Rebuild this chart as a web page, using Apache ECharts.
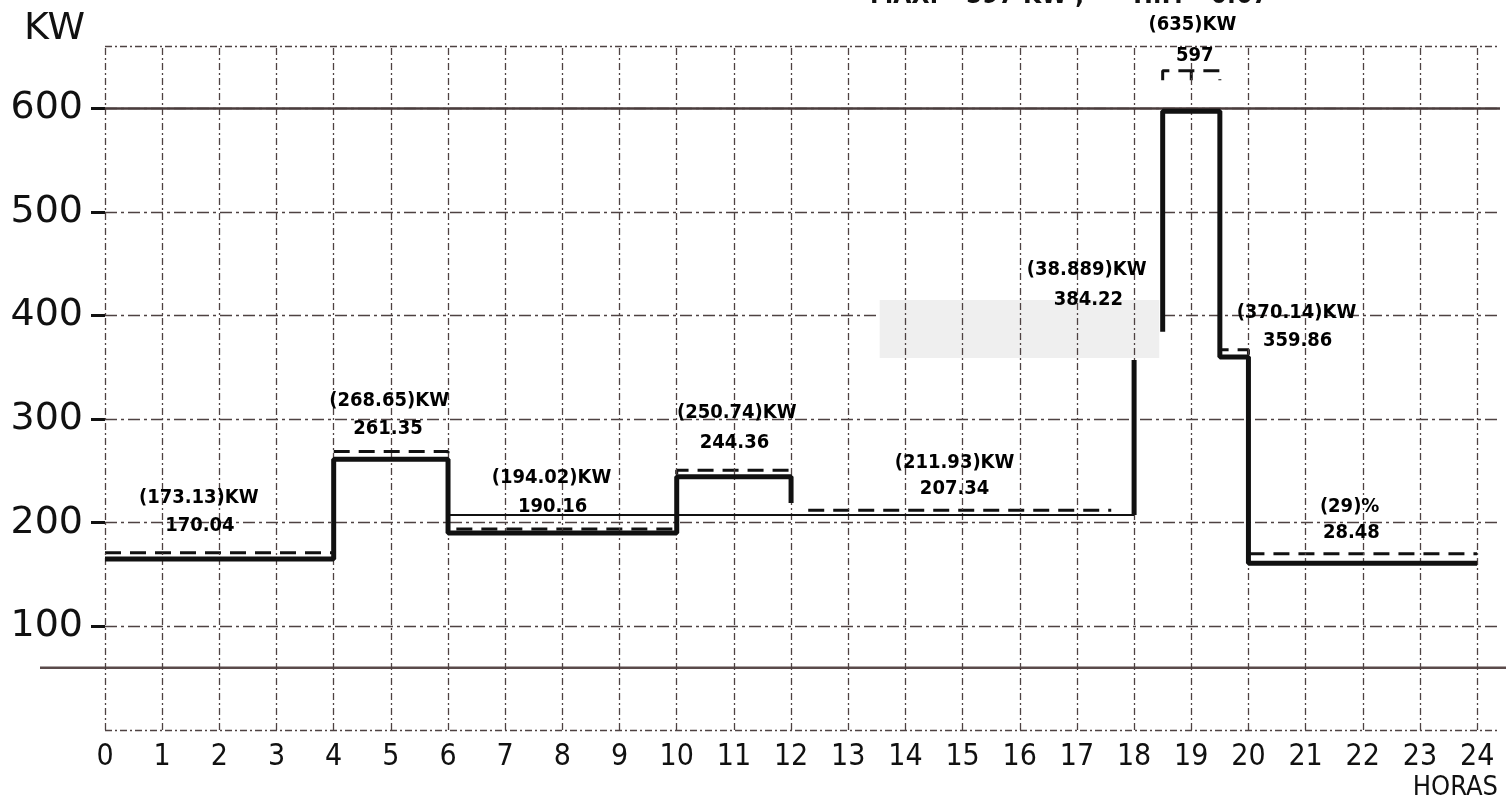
<!DOCTYPE html>
<html>
<head>
<meta charset="utf-8">
<script src="https://cdn.jsdelivr.net/npm/echarts@6/dist/echarts.min.js"></script>
<style>
html, body { margin: 0; padding: 0; background: #fff; }
#chart { width: 1506px; height: 811px; }
</style>
</head>
<body>
<div id="chart"></div>
<script>
// eje X (horas) y eje Y (KW)
const hourLabels = [0, 1, 2, 3, 4, 5, 6, 7, 8, 9, 10, 11, 12, 13, 14, 15, 16, 17, 18, 19, 20, 21, 22, 23, 24];
const kwLabels = [100, 200, 300, 400, 500, 600];

// demanda registrada, trazo grueso [hora, KW]
const demandaA = [[0, 165], [4, 165], [4, 261.35], [6, 261.35], [6, 190.16], [10, 190.16], [10, 244.36], [12, 244.36], [12, 219]];
const demandaB = [[18, 207.34], [18, 357]];
const demandaC = [[18.5, 384.22], [18.5, 597], [19.5, 597], [19.5, 359.86], [20, 359.86], [20, 161], [24, 161]];
// trazo fino 6h - 18h
const demandaFina = [[6, 207.34], [18, 207.34]];

// demanda maxima, trazo discontinuo
const maximaA = [[0, 171], [4, 171]];
const maximaB = [[4, 268.65], [6, 268.65], [6, 194.02], [10, 194.02], [10, 250.74], [12, 250.74]];
const maximaC = [[12.3, 211.93], [17.6, 211.93]];
const maximaD = [[18.5, 627], [18.5, 636], [19.5, 636], [19.5, 627]];
const maximaE = [[19, 636], [19, 627]];
const maximaF = [[19.5, 360], [19.5, 367], [20, 367], [20, 360]];
const maximaG = [[20, 170], [24, 170]];

// textos sobre cada tramo [hora, KW, texto]
const notas = [
    [1.64, 224, '(173.13)KW'], [1.66, 197, '170.04'],
    [4.97, 318, '(268.65)KW'], [4.95, 291, '261.35'],
    [7.81, 243, '(194.02)KW'], [7.83, 215, '190.16'],
    [11.05, 306, '(250.74)KW'], [11.01, 277, '244.36'],
    [14.86, 258, '(211.93)KW'], [14.86, 233, '207.34'],
    [17.17, 444, '(38.889)KW'], [17.2, 415, '384.22'],
    [20.84, 403, '(370.14)KW'], [20.86, 376, '359.86'],
    [19.02, 680, '(635)KW'], [19.06, 651, '597'],
    [21.77, 215, '(29)%'], [21.8, 190, '28.48']
];

const ink = '#111';
const gridInk = '#4e4242';

function thick(data) {
    return { type: 'line', data: data, symbol: 'none', z: 5, lineStyle: { color: ink, width: 5 } };
}
function dashed(data) {
    return { type: 'line', data: data, symbol: 'none', z: 4, lineStyle: { color: ink, width: 3, type: [16, 9] } };
}

const chartDom = document.getElementById('chart');
const myChart = echarts.init(chartDom);

const option = {
    animation: false,
    grid: { left: 105, right: 6, top: 46, bottom: 81 },
    xAxis: {
        type: 'value',
        min: 0,
        max: 24.4,
        axisLine: { show: false },
        axisTick: { show: false },
        splitLine: { show: false },
        axisLabel: {
            customValues: hourLabels,
            margin: 12,
            fontSize: 30,
            fontFamily: 'DejaVu Sans Condensed',
            color: ink
        }
    },
    yAxis: {
        type: 'value',
        min: 0,
        max: 660,
        interval: 60,
        axisLine: { show: false },
        axisTick: { show: true, customValues: kwLabels, length: 14, lineStyle: { color: ink, width: 3 } },
        axisLabel: {
            customValues: kwLabels,
            margin: 22,
            fontSize: 38,
            fontFamily: 'DejaVu Sans',
            color: ink
        },
        splitLine: { show: true, lineStyle: { color: gridInk, width: 1.3, type: [12, 4, 3, 4] } }
    },
    series: [
        {
            type: 'line',
            data: [],
            silent: true,
            markLine: {
                silent: true,
                symbol: 'none',
                label: { show: false },
                lineStyle: { color: gridInk, width: 1.3, type: [7, 3, 2, 3] },
                data: hourLabels.map(h => ({ xAxis: h })).concat([{ yAxis: 0 }, { yAxis: 660 }])
            },
            markArea: {
                silent: true,
                itemStyle: { color: '#efefef' },
                data: [[{ coord: [13.55, 415] }, { coord: [18.44, 359] }]]
            }
        },
        {
            type: 'line',
            data: [],
            silent: true,
            markLine: {
                silent: true,
                symbol: 'none',
                label: { show: false },
                lineStyle: { color: '#4a3c3c', width: 2.5, type: 'solid' },
                data: [{ yAxis: 600 }]
            }
        },
        thick(demandaA),
        thick(demandaB),
        thick(demandaC),
        { type: 'line', data: demandaFina, symbol: 'none', z: 5, lineStyle: { color: ink, width: 2 } },
        dashed(maximaA),
        dashed(maximaB),
        dashed(maximaC),
        dashed(maximaD),
        dashed(maximaE),
        dashed(maximaF),
        dashed(maximaG),
        {
            type: 'scatter',
            data: notas,
            symbolSize: 0,
            clip: false,
            z: 10,
            itemStyle: { opacity: 1 },
            label: {
                show: true,
                position: 'inside',
                formatter: p => p.data[2],
                fontSize: 20,
                fontWeight: 'bold',
                fontFamily: 'DejaVu Sans Condensed',
                color: '#000',
                opacity: 1
            }
        }
    ],
    graphic: [
        { type: 'line', shape: { x1: 4, y1: 0, x2: 4, y2: 811 }, style: { stroke: ink, lineWidth: 4 } },
        { type: 'text', left: 24, top: 10, style: { text: 'KW', fontSize: 38, fontFamily: 'DejaVu Sans', fill: ink } },
        { type: 'text', right: 8, top: 774, style: { text: 'HORAS', fontSize: 27, fontFamily: 'DejaVu Sans Condensed', fill: ink } },
        { type: 'text', left: 870, top: -17, style: { text: 'MAX.= 597 KW ;      H.P.= 0.67', fontSize: 26, fontWeight: 'bold', fontFamily: 'DejaVu Sans Condensed', fill: ink } }
    ]
};

myChart.setOption(option);

// linea de 60 KW, se alarga hacia la izquierda del area del grafico
const y60 = myChart.convertToPixel({ yAxisIndex: 0 }, 60);
myChart.setOption({
    graphic: [
        { type: 'line', shape: { x1: 40, y1: y60, x2: 1506, y2: y60 }, style: { stroke: '#5a4a4a', lineWidth: 2.5 } }
    ]
});
</script>
</body>
</html>
